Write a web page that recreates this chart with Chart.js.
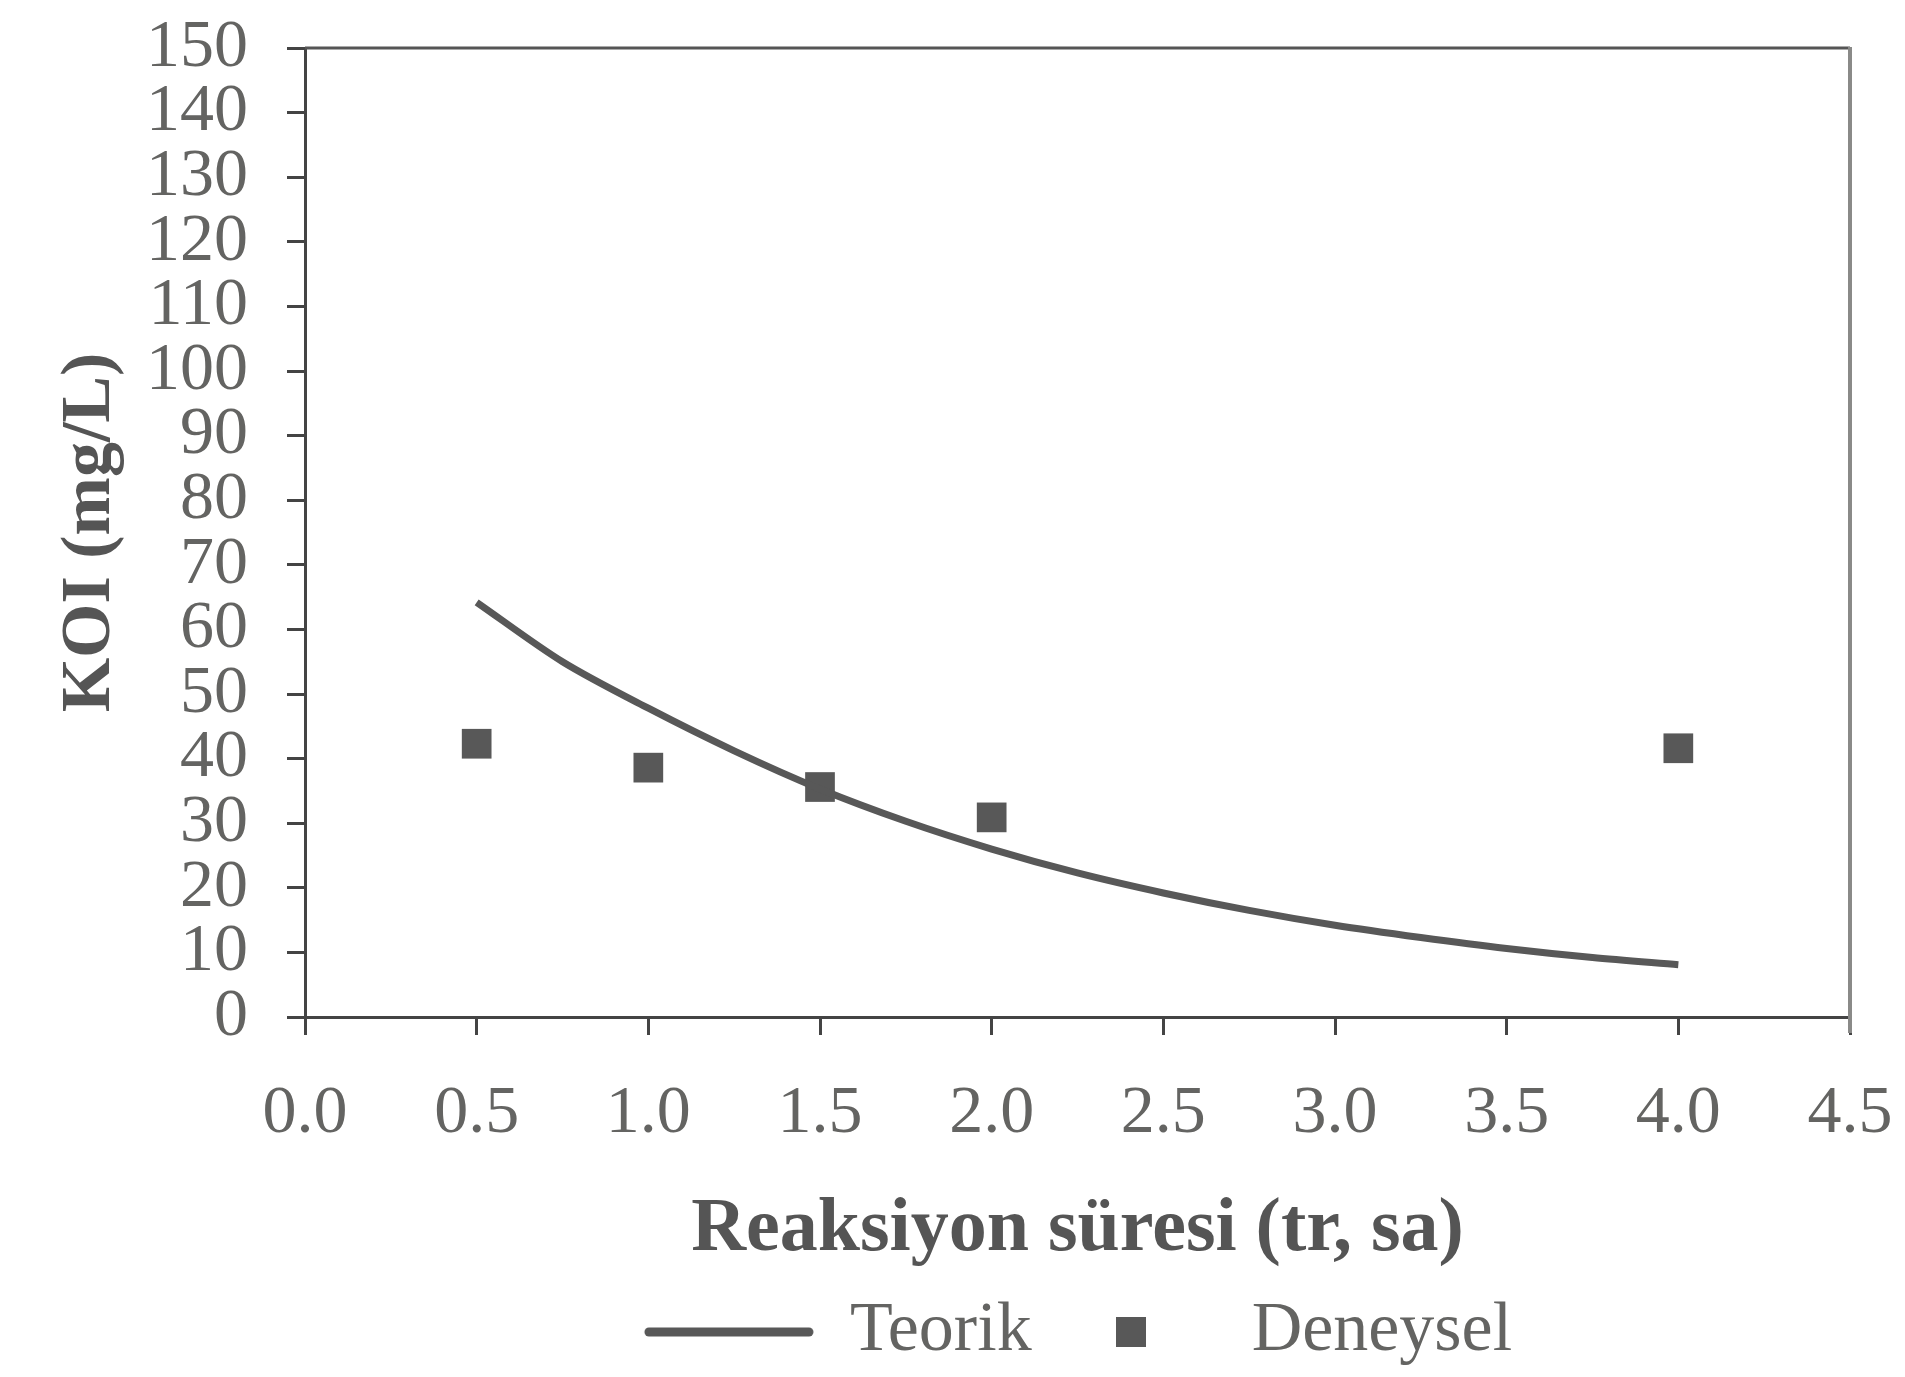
<!DOCTYPE html>
<html>
<head>
<meta charset="utf-8">
<script src="https://cdn.jsdelivr.net/npm/chart.js@4/dist/chart.umd.min.js"></script>
<style>
  html, body { margin: 0; padding: 0; background: #fff; }
  #koiChart { display: block; }
</style>
</head>
<body>
<canvas id="koiChart" width="1905" height="1377"></canvas>
<script>
// Teorik curve
const teorikX = [0.5, 0.75, 1.0, 1.25, 1.5, 1.75, 2.0, 2.25, 2.5, 2.75, 3.0, 3.25, 3.5, 3.75, 4.0];
const teorikY = [64.2, 55.0, 47.8, 41.2, 35.3, 30.3, 26.0, 22.3, 19.2, 16.5, 14.2, 12.3, 10.6, 9.2, 8.1];

// Deneysel points
const deneyselX = [0.5, 1.0, 1.5, 2.0, 4.0];
const deneyselY = [42.3, 38.6, 35.6, 30.9, 41.6];

const seriesNames = ['Teorik', 'Deneysel'];
const xTitle = 'Reaksiyon süresi (tr, sa)';
const yTitle = 'KOI (mg/L)';

const serif = "'Liberation Serif', 'DejaVu Serif', serif";
const markColor = '#585858';
const textColor = '#646462';

// legend symbols
const lineIcon = document.createElement('canvas');
lineIcon.width = 172; lineIcon.height = 14;
(function () {
    const c = lineIcon.getContext('2d');
    c.strokeStyle = markColor;
    c.lineWidth = 9;
    c.lineCap = 'round';
    c.beginPath(); c.moveTo(6, 7); c.lineTo(166, 7); c.stroke();
})();
const squareIcon = document.createElement('canvas');
squareIcon.width = 30; squareIcon.height = 30;
(function () {
    const c = squareIcon.getContext('2d');
    c.fillStyle = markColor;
    c.fillRect(0, 0, 30, 30);
})();

// top and right frame lines
const framePlugin = {
    id: 'frame',
    beforeDatasetsDraw(chart) {
        const { ctx, chartArea: a } = chart;
        ctx.save();
        ctx.strokeStyle = '#555';
        ctx.lineWidth = 3;
        ctx.beginPath(); ctx.moveTo(a.left, a.top); ctx.lineTo(a.right, a.top); ctx.stroke();
        ctx.strokeStyle = '#8a8a88';
        ctx.lineWidth = 4;
        ctx.beginPath(); ctx.moveTo(a.right, a.top - 1); ctx.lineTo(a.right, a.bottom + 16); ctx.stroke();
        ctx.restore();
    }
};

const ctx = document.getElementById('koiChart').getContext('2d');
new Chart(ctx, {
    type: 'scatter',
    data: {
        datasets: [
            {
                label: seriesNames[0],
                data: teorikX.map((x, i) => ({ x: x, y: teorikY[i] })),
                showLine: true,
                borderColor: markColor,
                borderWidth: 7,
                pointRadius: 0,
                tension: 0.3,
                fill: false
            },
            {
                label: seriesNames[1],
                data: deneyselX.map((x, i) => ({ x: x, y: deneyselY[i] })),
                pointStyle: 'rect',
                pointRadius: 21,
                backgroundColor: markColor,
                borderWidth: 0
            }
        ]
    },
    options: {
        responsive: false,
        animation: false,
        layout: { padding: { top: 48, right: 55, left: 0, bottom: 0 } },
        plugins: {
            tooltip: { enabled: false },
            legend: {
                position: 'bottom',
                fullSize: false,
                labels: {
                    usePointStyle: true,
                    pointStyleWidth: 172,
                    padding: 13,
                    color: textColor,
                    font: { family: serif, size: 70 },
                    generateLabels: function (chart) {
                        return chart.data.datasets.map((ds, i) => ({
                            text: ds.label,
                            fillStyle: markColor,
                            strokeStyle: markColor,
                            fontColor: textColor,
                            lineWidth: 0,
                            pointStyle: i === 0 ? lineIcon : squareIcon,
                            hidden: false,
                            datasetIndex: i
                        }));
                    }
                }
            }
        },
        scales: {
            x: {
                type: 'linear',
                min: 0,
                max: 4.5,
                ticks: {
                    stepSize: 0.5,
                    autoSkip: false,
                    color: textColor,
                    padding: 38,
                    font: { family: serif, size: 68 },
                    callback: v => Number(v).toFixed(1)
                },
                grid: { drawOnChartArea: false, tickLength: 18, tickColor: '#444', tickWidth: 3 },
                border: { color: '#444', width: 3 },
                title: {
                    display: true,
                    text: xTitle,
                    color: '#555',
                    font: { family: serif, size: 76, weight: 'bold' },
                    padding: { top: 0, bottom: 8 }
                },
                afterFit: s => { s.height = 267; s.paddingLeft = 0; s.paddingRight = 0; }
            },
            y: {
                min: 0,
                max: 150,
                ticks: {
                    stepSize: 10,
                    autoSkip: false,
                    color: textColor,
                    padding: 39,
                    font: { family: serif, size: 68 }
                },
                grid: { drawOnChartArea: false, tickLength: 18, tickColor: '#444', tickWidth: 3 },
                border: { color: '#444', width: 3 },
                title: {
                    display: true,
                    text: yTitle,
                    color: '#555',
                    font: { family: serif, size: 70, weight: 'bold' },
                    padding: { top: 49, bottom: 0 }
                },
                afterFit: s => { s.width = 305; s.paddingTop = 0; s.paddingBottom = 0; }
            }
        }
    },
    plugins: [framePlugin]
});
</script>
</body>
</html>
